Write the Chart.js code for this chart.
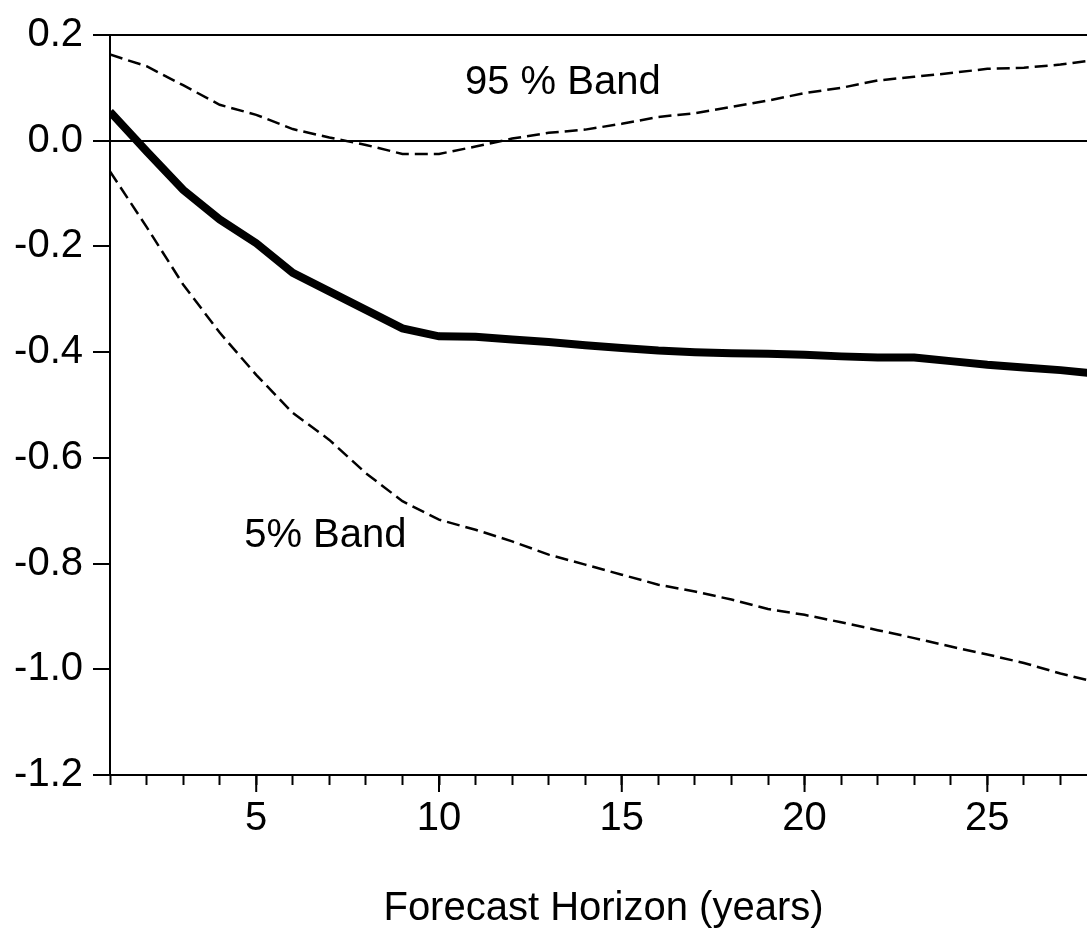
<!DOCTYPE html>
<html>
<head>
<meta charset="utf-8">
<script src="https://cdn.jsdelivr.net/npm/chart.js@4.4.1/dist/chart.umd.min.js"></script>
<style>
  html, body { margin: 0; padding: 0; overflow: hidden; background: #fff; }
  #wrap { width: 1110px; height: 946px; }
</style>
</head>
<body>
<div id="wrap"><canvas id="chart"></canvas></div>
<script>
// forecast horizon (years)
const horizon = [1, 2, 3, 4, 5, 6, 7, 8, 9, 10, 11, 12, 13, 14, 15, 16, 17, 18, 19, 20, 21, 22, 23, 24, 25, 26, 27, 28];
// point estimate
const response = [0.055, -0.02, -0.093, -0.149, -0.194, -0.250, -0.285, -0.320, -0.355, -0.370, -0.371, -0.376, -0.381, -0.387,
    -0.392, -0.397, -0.400, -0.402, -0.403, -0.405, -0.408, -0.410, -0.410, -0.417, -0.424, -0.429, -0.434, -0.441];
// 95 % band
const upper = [0.163, 0.141, 0.105, 0.068, 0.049, 0.022, 0.006, -0.008, -0.025, -0.025, -0.011, 0.004, 0.015, 0.021,
    0.032, 0.045, 0.052, 0.064, 0.076, 0.090, 0.100, 0.114, 0.121, 0.128, 0.136, 0.138, 0.144, 0.153];
// 5 % band
const lower = [-0.058, -0.163, -0.272, -0.363, -0.443, -0.515, -0.566, -0.629, -0.682, -0.717, -0.736, -0.758, -0.783, -0.802,
    -0.821, -0.840, -0.853, -0.868, -0.886, -0.897, -0.911, -0.926, -0.941, -0.957, -0.972, -0.988, -1.008, -1.025];

const majorTicks = [5, 10, 15, 20, 25];
const notes = [
    {text: '95 % Band', x: 10.71, y: 0.089},
    {text: '5% Band', x: 4.67, y: -0.769}
];
const xTitle = 'Forecast Horizon (years)';

const font = '"Liberation Sans", Arial, sans-serif';

const toPoints = (vals) => vals.map((v, i) => ({x: horizon[i], y: v}));

const extras = {
    id: 'extras',
    afterDraw(chart) {
        const {ctx, chartArea, scales: {x, y}} = chart;
        ctx.save();
        ctx.strokeStyle = '#000';
        ctx.lineWidth = 2;
        // longer ticks every 5 years
        majorTicks.forEach(v => {
            const px = x.getPixelForValue(v);
            ctx.beginPath();
            ctx.moveTo(px, chartArea.bottom);
            ctx.lineTo(px, chartArea.bottom + 17);
            ctx.stroke();
        });
        ctx.fillStyle = '#000';
        ctx.textBaseline = 'alphabetic';
        ctx.font = '40px ' + font;
        notes.forEach(n => ctx.fillText(n.text, x.getPixelForValue(n.x), y.getPixelForValue(n.y)));
        // axis title, centred under the plot
        ctx.textAlign = 'center';
        ctx.fillText(xTitle, (chartArea.left + chartArea.right) / 2, chartArea.bottom + 145);
        ctx.restore();
    }
};

new Chart(document.getElementById('chart'), {
    type: 'line',
    data: {
        datasets: [{
            label: 'response',
            data: toPoints(response),
            borderColor: '#000',
            borderWidth: 8,
            pointRadius: 0,
            tension: 0
        }, {
            label: '95 % Band',
            data: toPoints(upper),
            borderColor: '#000',
            borderWidth: 2.5,
            borderDash: [13, 6],
            pointRadius: 0,
            tension: 0
        }, {
            label: '5% Band',
            data: toPoints(lower),
            borderColor: '#000',
            borderWidth: 2.5,
            borderDash: [13, 6],
            pointRadius: 0,
            tension: 0
        }]
    },
    options: {
        responsive: true,
        maintainAspectRatio: false,
        animation: false,
        layout: {padding: {top: 35, right: 13, left: 0, bottom: 0}},
        plugins: {
            legend: {display: false},
            tooltip: {enabled: false}
        },
        scales: {
            x: {
                type: 'linear',
                min: 1,
                max: 28,
                afterFit: scale => { scale.height = 171; },
                border: {display: true, color: '#000', width: 2},
                grid: {
                    drawOnChartArea: false,
                    tickLength: 10,
                    tickWidth: 2,
                    tickColor: '#000'
                },
                ticks: {
                    stepSize: 1,
                    autoSkip: false,
                    maxRotation: 0,
                    padding: 10,
                    color: '#000',
                    font: {family: font, size: 40},
                    callback: v => (v % 5 === 0 ? String(v) : '')
                }
            },
            y: {
                min: -1.2,
                max: 0.2,
                afterFit: scale => { scale.width = 110; },
                border: {display: true, color: '#000', width: 2},
                grid: {
                    color: c => (c.tick && (Math.abs(c.tick.value) < 1e-9 || Math.abs(c.tick.value - 0.2) < 1e-9) ? '#000' : 'rgba(0,0,0,0)'),
                    lineWidth: 2,
                    tickLength: 17,
                    tickWidth: 2,
                    tickColor: '#000'
                },
                ticks: {
                    stepSize: 0.2,
                    padding: 10,
                    color: '#000',
                    font: {family: font, size: 40},
                    callback: v => v.toFixed(1)
                }
            }
        }
    },
    plugins: [extras]
});
</script>
</body>
</html>
